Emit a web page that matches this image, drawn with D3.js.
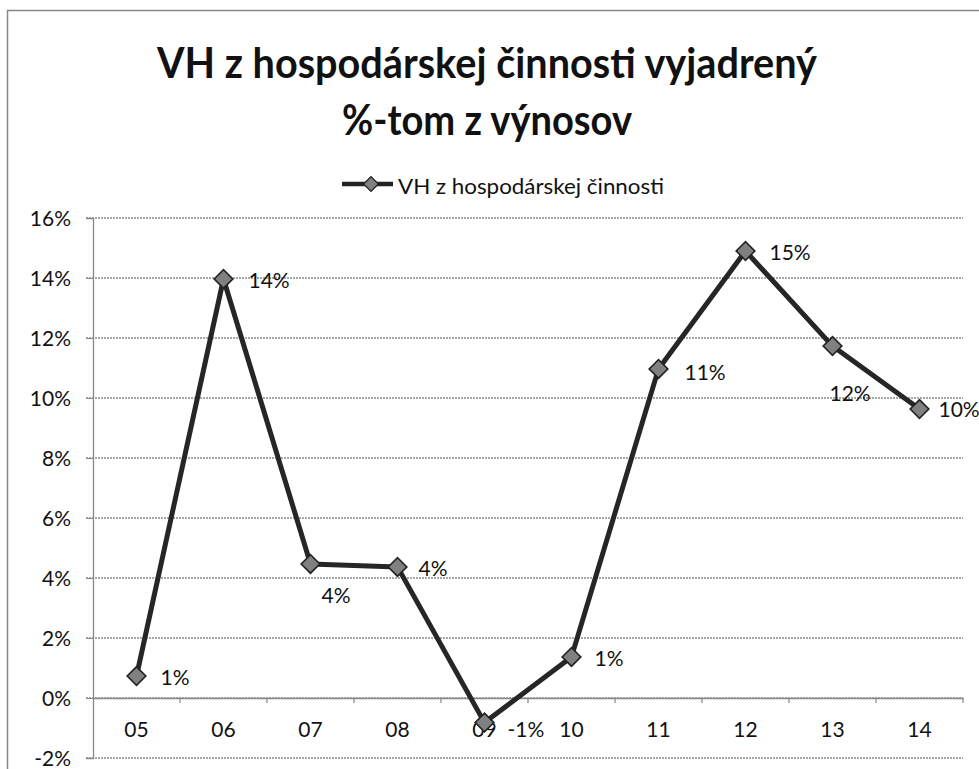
<!DOCTYPE html>
<html><head><meta charset="utf-8">
<script src="https://cdn.jsdelivr.net/npm/d3@7"></script>
<style>body{margin:0;background:#fff;} svg{display:block;}</style>
</head><body>
<svg id="c" width="979" height="769"></svg>
<script>
const categories = ["05","06","07","08","09","10","11","12","13","14"];
const values = [0.73, 13.97, 4.47, 4.37, -0.82, 1.37, 10.97, 14.9, 11.73, 9.63];
const dataLabels = ["1%","14%","4%","4%","-1%","1%","11%","15%","12%","10%"];
const yTicks = [-2,0,2,4,6,8,10,12,14,16];
const titleLines = ["VH z hospodárskej činnosti vyjadrený", "%-tom z výnosov"];
const seriesName = "VH z hospodárskej činnosti";

const svg = d3.select("#c");
const font = "Lato, 'Open Sans', sans-serif";
// frame
svg.append("rect").attr("x",7.5).attr("y",10.5).attr("width",990).attr("height",800)
  .attr("fill","none").attr("stroke","#888").attr("stroke-width",1.5);

const L=93, R=963, T=218, B=758;
const x = d3.scaleBand().domain(categories).range([L,R]);
const y = d3.scaleLinear().domain([-2,16]).range([B,T]);

// title
const titleLens = [660, 290];
svg.append("g").selectAll("text").data(titleLines).join("text")
  .attr("x",487).attr("y",(d,i)=>78+i*57).attr("text-anchor","middle")
  .attr("font-family",font).attr("font-weight","bold").attr("font-size",42)
  .attr("textLength",(d,i)=>titleLens[i]).attr("lengthAdjust","spacingAndGlyphs")
  .attr("fill","#111").text(d=>d);

// legend
const lg = svg.append("g");
lg.append("line").attr("x1",342).attr("x2",393).attr("y1",184).attr("y2",184)
  .attr("stroke","#222").attr("stroke-width",4.5);
lg.append("path").attr("d",d3.symbol(d3.symbolSquare,110)()).attr("transform","translate(371,184) rotate(45)")
  .attr("fill","#808080").attr("stroke","#222").attr("stroke-width",1.3);
lg.append("text").attr("x",398).attr("y",194).attr("font-family",font)
  .attr("font-size",21).attr("textLength",266).attr("lengthAdjust","spacingAndGlyphs")
  .attr("fill","#111").text(seriesName);

// gridlines
svg.append("g").selectAll("line").data(yTicks).join("line")
  .attr("x1",L-7).attr("x2",R).attr("y1",d=>y(d)).attr("y2",d=>y(d))
  .attr("stroke","#8a8a8a").attr("stroke-width",1.3).attr("stroke-dasharray","2,1");

// y axis
const yAxis = svg.append("g").attr("transform",`translate(${L},0)`)
  .call(d3.axisLeft(y).tickValues(yTicks).tickFormat(d=>d+"%").tickSize(7));
yAxis.select(".domain").attr("stroke","#888").attr("stroke-width",1.3);
yAxis.selectAll(".tick line").attr("stroke","#888");
yAxis.selectAll("text").attr("font-family",font).attr("font-size",21).attr("fill","#111")
  .attr("x",-22).attr("dy","0.36em");

// x axis at zero
const xAxis = svg.append("g").attr("transform",`translate(0,${y(0)})`)
  .call(d3.axisBottom(x).tickSize(0));
xAxis.select(".domain").attr("stroke","#888").attr("stroke-width",1.3);
xAxis.selectAll("text").attr("font-family",font).attr("font-size",21).attr("fill","#111")
  .attr("y",39).attr("dy",0);
// boundary ticks
svg.append("g").selectAll("line").data(categories).join("line")
  .attr("x1",d=>x(d)+x.step()).attr("x2",d=>x(d)+x.step())
  .attr("y1",y(0)).attr("y2",y(0)+5).attr("stroke","#888").attr("stroke-width",1.2);

// line
const cx = d=>x(d)+x.bandwidth()/2;
const line = d3.line().x((d,i)=>cx(categories[i])).y(d=>y(d));
svg.append("path").datum(values).attr("d",line).attr("fill","none")
  .attr("stroke","#262626").attr("stroke-width",5).attr("stroke-linejoin","round");

// markers
svg.append("g").selectAll("path").data(values).join("path")
  .attr("d",d3.symbol(d3.symbolSquare,175)())
  .attr("transform",(d,i)=>`translate(${cx(categories[i])},${y(d)}) rotate(45)`)
  .attr("fill","#808080").attr("stroke","#222").attr("stroke-width",1.6);

// data labels
const offs = [[24,9],[25,9],[11,39],[21,9],[23,14],[23,9],[26,11],[24,9],[-3,55],[19,8]];
svg.append("g").selectAll("text").data(values).join("text")
  .attr("x",(d,i)=>cx(categories[i])+offs[i][0]).attr("y",(d,i)=>y(d)+offs[i][1])
  .attr("font-family",font).attr("font-size",21).attr("fill","#111")
  .text((d,i)=>dataLabels[i]);
</script>
</body></html>
